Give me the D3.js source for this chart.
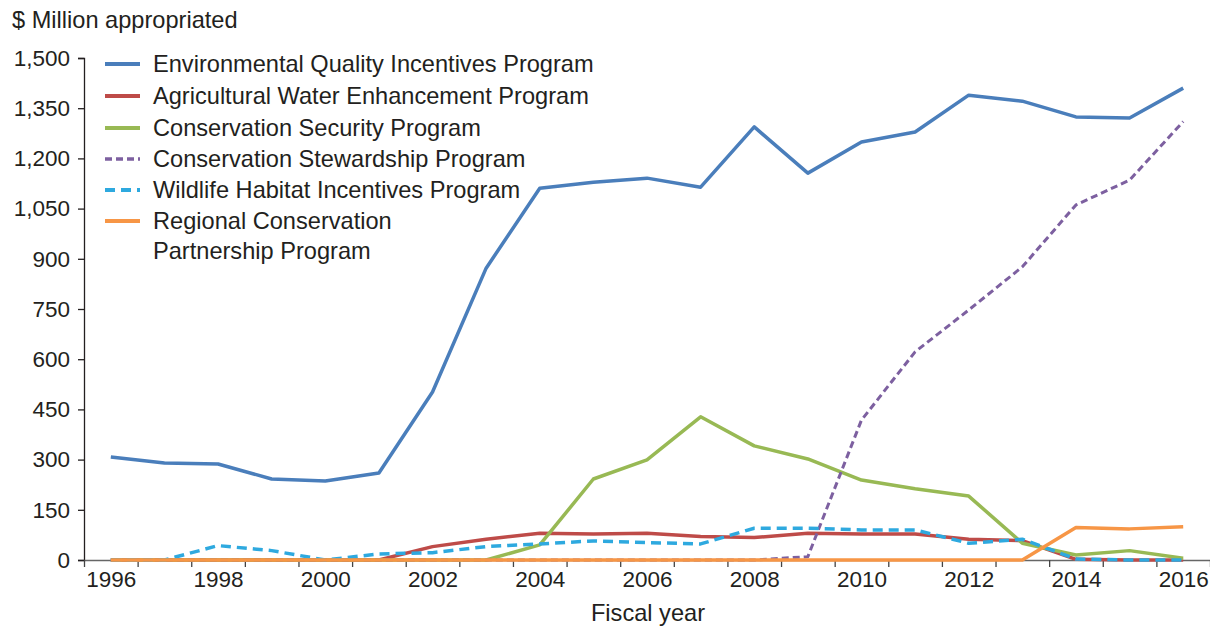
<!DOCTYPE html>
<html><head><meta charset="utf-8">
<script src="https://cdn.jsdelivr.net/npm/d3@7"></script>
<style>body{margin:0;background:#fff}svg{display:block}text{font-family:"Liberation Sans",Arial,Helvetica,sans-serif;fill:#231f20}</style>
</head><body><svg id="c" width="1210" height="627"></svg>
<script>
const years = d3.range(1996, 2017);
const seriesNames = ["Environmental Quality Incentives Program","Agricultural Water Enhancement Program","Conservation Security Program","Conservation Stewardship Program","Wildlife Habitat Incentives Program","Regional Conservation Partnership Program"];
const eqip = [308,290,287,242,236,260,502,872,1111,1129,1141,1114,1294,1156,1249,1279,1389,1371,1324,1321,1410];
const awep = [0,0,0,0,0,0,40,62,80,78,80,70,67,80,78,78,62,58,2,0,0];
const csp  = [0,0,0,0,0,0,0,0,45,242,299,428,341,302,239,213,191,50,15,28,5];
const cstp = [0,0,0,0,0,0,0,0,0,0,0,0,0,10,418,622,747,876,1061,1135,1310];
const whip = [0,0,43,28,0,18,22,40,48,57,52,48,95,95,90,90,50,62,3,0,0];
const rcpp = [0,0,0,0,0,0,0,0,0,0,0,0,0,0,0,0,0,0,97,93,99];
const yTicks = d3.range(0, 1501, 150);
const xLabels = d3.range(1996, 2017, 2);
const colors = ["#4a7ebb","#be4b48","#98b954","#7d60a0","#2ea9df","#f79646"];
const dashes = [null,null,null,"7,4","10,6",null];
const widths = [3.5,3.5,3.5,3,3.5,3.5];
const data = [eqip,awep,csp,cstp,whip,rcpp];
const FS = "22.5px", FT = "23.6px";

const svg = d3.select("#c");
const x = d3.scaleLinear().domain([1995.5, 2016.5]).range([84, 1210]);
const y = d3.scaleLinear().domain([0, 1500]).range([560, 58]);

// y axis
const ya = svg.append("g").attr("transform","translate(84,0)")
  .call(d3.axisLeft(y).tickValues(yTicks).tickFormat(d3.format(",")).tickSize(6).tickPadding(8));
ya.select(".domain").attr("stroke","#231f20").attr("stroke-width",1.3);
ya.selectAll(".tick line").attr("stroke","#231f20").attr("stroke-width",1.3);
ya.selectAll("text").style("font-size",FS).attr("fill","#231f20");

// x axis ticks (between categories)
const xt = svg.append("g").attr("transform","translate(0,560)")
  .call(d3.axisBottom(x).tickValues(d3.range(1995.5, 2017, 1)).tickFormat("").tickSizeInner(7).tickSizeOuter(0));
xt.select(".domain").attr("stroke","#666").attr("stroke-width",1.5);
xt.selectAll(".tick line").attr("stroke","#444").attr("stroke-width",1.3);
const xl = svg.append("g").attr("transform","translate(0,560)")
  .call(d3.axisBottom(x).tickValues(xLabels).tickFormat(d3.format("d")).tickSize(0).tickPadding(11));
xl.select(".domain").remove();
xl.selectAll("text").style("font-size",FS).attr("fill","#231f20");

// lines
const line = d3.line().x((d,i)=>x(years[i])).y(d=>y(d));
data.forEach((s,k)=>{
  svg.append("path").datum(s).attr("d",line).attr("fill","none")
    .attr("stroke",colors[k]).attr("stroke-width",widths[k])
    .attr("stroke-linejoin","round")
    .attr("stroke-dasharray",dashes[k]);
});

// titles
svg.append("text").attr("x",12).attr("y",28).style("font-size",FT).text("$ Million appropriated");
svg.append("text").attr("x",648).attr("y",621).attr("text-anchor","middle").style("font-size",FT).text("Fiscal year");

// legend
const legY = [64,96,128,159,190,221];
const lg = svg.append("g");
seriesNames.forEach((n,k)=>{
  lg.append("line").attr("x1",105).attr("x2",140).attr("y1",legY[k]).attr("y2",legY[k])
    .attr("stroke",colors[k]).attr("stroke-width",widths[k]+0.5).attr("stroke-dasharray",dashes[k]);
  const t = lg.append("text").attr("x",153).attr("y",legY[k]+8).style("font-size",FT);
  if (k===5) {
    t.append("tspan").attr("x",153).text("Regional Conservation");
    t.append("tspan").attr("x",153).attr("dy",30).text("Partnership Program");
  } else t.text(n);
});
</script></body></html>
